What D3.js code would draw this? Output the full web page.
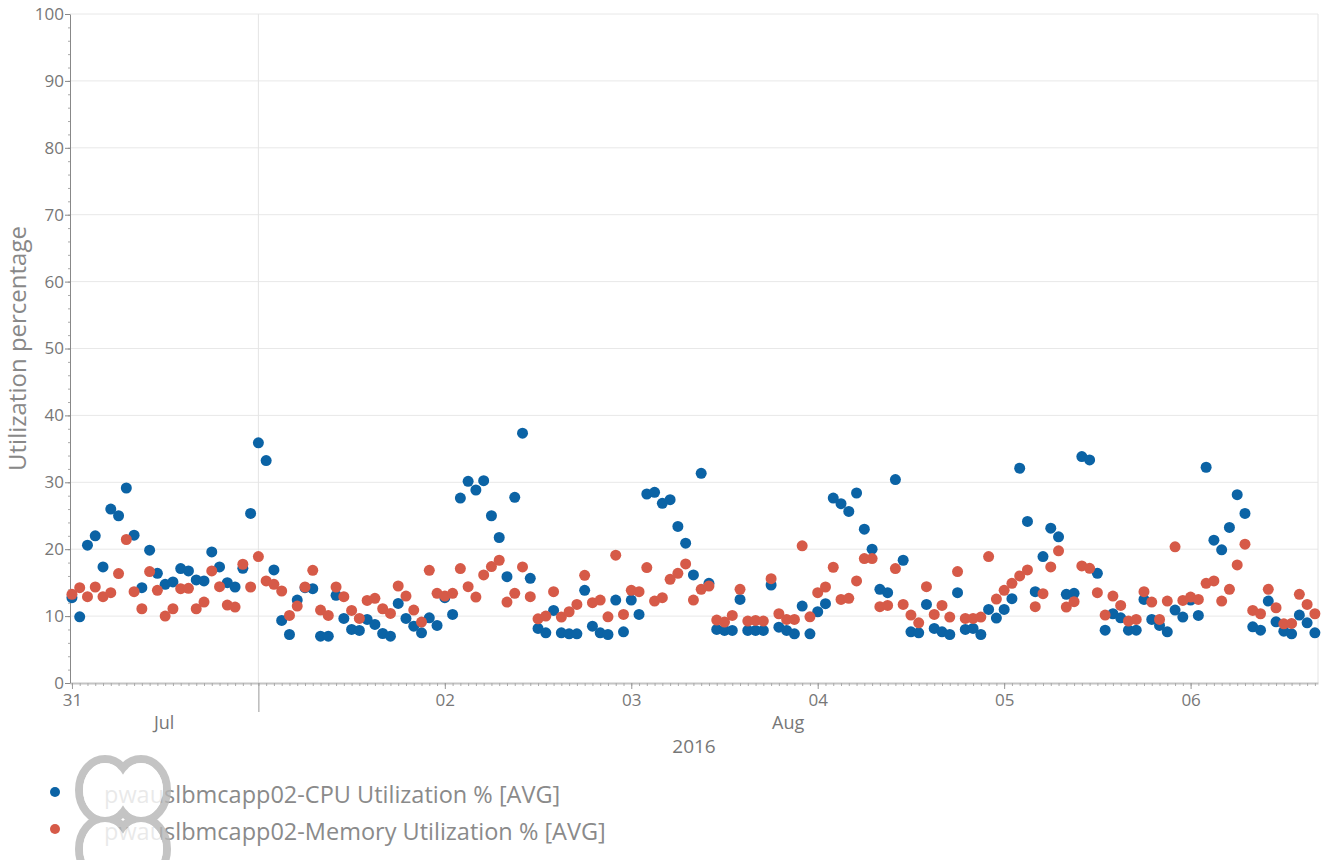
<!DOCTYPE html>
<html>
<head>
<meta charset="utf-8">
<script src="https://cdn.jsdelivr.net/npm/d3@7"></script>
<style>
  body { margin: 0; background: #fff; }
  text { font-family: "Open Sans", sans-serif; fill: #777; }
</style>
</head>
<body>
<div id="area"></div>
<script>
// hourly samples starting 2016-07-31 00:00
var startTime = new Date(2016, 6, 31, 0, 0);

var cpuValues = [
  12.75, 9.9, 20.6, 22, 17.35, 26, 25, 29.15, 22.1, 14.25, 19.85, 16.4, 14.75, 15.1, 17.1, 16.75, 15.4, 15.25, 19.6, 17.35,
  15, 14.35, 17.15, 25.35, 35.9, 33.25, 16.9, 9.35, 7.25, 12.4, 14.25, 14.1, 7, 7, 13.1, 9.65, 8, 7.85, 9.5, 8.75,
  7.4, 7, 11.9, 9.65, 8.5, 7.5, 9.75, 8.6, 12.75, 10.25, 27.65, 30.15, 28.85, 30.25, 25, 21.75, 15.9, 27.75, 37.35, 15.65,
  8.15, 7.5, 10.85, 7.5, 7.35, 7.35, 13.85, 8.5, 7.5, 7.25, 12.4, 7.65, 12.4, 10.25, 28.25, 28.5, 26.85, 27.4, 23.4, 20.9,
  16.15, 31.35, 14.9, 8, 7.85, 7.85, 12.5, 7.85, 7.85, 7.85, 14.65, 8.35, 7.85, 7.35, 11.5, 7.35, 10.65, 11.85, 27.65, 26.8,
  25.65, 28.4, 23, 20, 14, 13.5, 30.4, 18.35, 7.65, 7.5, 11.75, 8.15, 7.65, 7.25, 13.5, 8, 8.15, 7.25, 11, 9.7,
  11, 12.6, 32.1, 24.15, 13.65, 18.9, 23.15, 21.85, 13.25, 13.4, 33.85, 33.35, 16.4, 7.9, 10.35, 9.75, 7.9, 7.9, 12.5, 9.5,
  8.6, 7.65, 10.9, 9.85, 12.4, 10.1, 32.25, 21.35, 19.9, 23.25, 28.15, 25.35, 8.4, 7.9, 12.25, 9.15, 7.75, 7.35, 10.15, 9,
  7.5
];

var memValues = [
  13.25, 14.25, 12.9, 14.35, 12.9, 13.5, 16.35, 21.45, 13.65, 11.1, 16.65, 13.85, 10, 11.1, 14.1, 14.15, 11.1, 12.1, 16.75, 14.4,
  11.65, 11.35, 17.75, 14.35, 18.9, 15.25, 14.75, 13.75, 10.1, 11.5, 14.35, 16.85, 10.9, 10.1, 14.35, 12.9, 10.85, 9.65, 12.35, 12.65,
  11.1, 10.4, 14.5, 13, 10.9, 9.1, 16.85, 13.4, 13, 13.4, 17.1, 14.4, 12.85, 16.15, 17.4, 18.35, 12.1, 13.4, 17.35, 12.9,
  9.6, 10, 13.65, 9.85, 10.65, 11.75, 16.1, 12, 12.4, 9.9, 19.1, 10.25, 13.85, 13.65, 17.25, 12.25, 12.75, 15.5, 16.4, 17.8,
  12.4, 14, 14.5, 9.4, 9.1, 10.1, 14, 9.25, 9.35, 9.25, 15.6, 10.35, 9.5, 9.5, 20.5, 9.9, 13.5, 14.35, 17.3, 12.5,
  12.65, 15.25, 18.6, 18.6, 11.4, 11.6, 17.1, 11.75, 10.15, 9, 14.4, 10.25, 11.6, 9.85, 16.65, 9.65, 9.65, 9.85, 18.9, 12.55,
  13.85, 14.9, 16, 16.9, 11.4, 13.35, 17.35, 19.75, 11.35, 12.15, 17.5, 17.15, 13.5, 10.15, 13, 11.6, 9.25, 9.5, 13.65, 12.1,
  9.5, 12.25, 20.35, 12.35, 12.85, 12.5, 14.9, 15.25, 12.25, 14, 17.65, 20.75, 10.85, 10.35, 14, 11.25, 8.85, 8.9, 13.25, 11.75,
  10.35
];

var seriesNames = [
  "pwauslbmcapp02-CPU Utilization % [AVG]",
  "pwauslbmcapp02-Memory Utilization % [AVG]"
];
var seriesColors = ["#0b63a5", "#d65a48"];
var yTicks = [0, 10, 20, 30, 40, 50, 60, 70, 80, 90, 100];
var monthNames = ["Jul", "Aug"];
var yearLabel = "2016";

var W = 1324, H = 860;
var plot = {left: 70, right: 1318, top: 14, bottom: 683};

var svg = d3.select('#area').append('svg')
    .attr('width', W)
    .attr('height', H);

var hour = 3600 * 1000;
var x = d3.scaleTime()
    .domain([new Date(+startTime - 0.25 * hour), new Date(+startTime + 160.4 * hour)])
    .range([plot.left, plot.right]);

var y = d3.scaleLinear()
    .domain([0, 100])
    .range([plot.bottom, plot.top]);

// horizontal grid
svg.append('g').selectAll('line')
  .data(yTicks.slice(1))
  .enter().append('line')
    .attr('x1', plot.left).attr('x2', plot.right)
    .attr('y1', function(d) { return y(d); })
    .attr('y2', function(d) { return y(d); })
    .attr('stroke', '#e8e8e8');

// right border
svg.append('line')
  .attr('x1', plot.right).attr('x2', plot.right)
  .attr('y1', plot.top).attr('y2', plot.bottom)
  .attr('stroke', '#e4e4e4');

// month boundary grid line
var monthStarts = d3.timeMonth.range(x.domain()[0], x.domain()[1]);
svg.append('g').selectAll('line')
  .data(monthStarts)
  .enter().append('line')
    .attr('x1', function(d) { return x(d); })
    .attr('x2', function(d) { return x(d); })
    .attr('y1', plot.top).attr('y2', plot.bottom)
    .attr('stroke', '#e4e4e4');

// x axis: hour ticks
var xHours = svg.append('g')
    .attr('transform', 'translate(0,' + plot.bottom + ')')
    .call(d3.axisBottom(x).ticks(d3.timeHour.every(1)).tickSize(3).tickFormat('').tickSizeOuter(0));
xHours.select('.domain').attr('stroke', '#c4c4c4').attr('stroke-width', 2);
xHours.selectAll('.tick line').attr('stroke', '#aaa');

// x axis: day ticks
var dayAxis = d3.axisBottom(x)
    .ticks(d3.timeDay.every(1))
    .tickSize(6)
    .tickSizeOuter(0)
    .tickFormat(function(d) { return d.getDate() === 1 ? '' : d3.timeFormat('%d')(d); });
var xDays = svg.append('g')
    .attr('transform', 'translate(0,' + plot.bottom + ')')
    .call(dayAxis);
xDays.select('.domain').remove();
xDays.selectAll('.tick line')
    .attr('stroke', '#999')
    .attr('y2', function(d) { return d.getDate() === 1 ? 29 : 6; });
xDays.selectAll('.tick text')
    .attr('y', 11)
    .style('font-size', '17px')
    .style('fill', '#777')
    .style('font-family', '"Open Sans", sans-serif');

// month labels centred in their visible span
var bounds = [x.domain()[0]].concat(monthStarts, [x.domain()[1]]);
svg.append('g').selectAll('text')
  .data(monthNames)
  .enter().append('text')
    .attr('x', function(d, i) { return (x(bounds[i]) + x(bounds[i + 1])) / 2; })
    .attr('y', 729)
    .attr('text-anchor', 'middle')
    .style('font-size', '18px')
    .text(function(d) { return d; });

svg.append('text')
  .attr('x', (plot.left + plot.right) / 2)
  .attr('y', 753)
  .attr('text-anchor', 'middle')
  .style('font-size', '19px')
  .text(yearLabel);

// y axis with minor ticks
var yMinor = svg.append('g')
    .attr('transform', 'translate(' + plot.left + ',0)')
    .call(d3.axisLeft(y).ticks(50).tickSize(2).tickFormat('').tickSizeOuter(0));
yMinor.select('.domain').attr('stroke', '#888');
yMinor.selectAll('.tick line').attr('stroke', '#aaa');

var yMajor = svg.append('g')
    .attr('transform', 'translate(' + plot.left + ',0)')
    .call(d3.axisLeft(y).tickValues(yTicks).tickSize(5).tickSizeOuter(0));
yMajor.select('.domain').remove();
yMajor.selectAll('.tick line').attr('stroke', '#888');
yMajor.selectAll('.tick text')
    .attr('x', -6)
    .style('font-size', '17px')
    .style('fill', '#777')
    .style('font-family', '"Open Sans", sans-serif');

svg.append('text')
  .attr('transform', 'translate(26,' + ((plot.top + plot.bottom) / 2) + ') rotate(-90)')
  .attr('text-anchor', 'middle')
  .style('font-size', '24px')
  .style('fill', '#888')
  .text('Utilization percentage');

// points
var series = [cpuValues, memValues];
series.forEach(function(values, s) {
  svg.append('g').selectAll('circle')
    .data(values)
    .enter().append('circle')
      .attr('cx', function(d, i) { return x(new Date(+startTime + i * hour)); })
      .attr('cy', function(d) { return y(d); })
      .attr('r', 5.5)
      .attr('fill', seriesColors[s]);
});

// legend
var legend = svg.append('g').selectAll('.legend')
    .data(seriesNames)
    .enter().append('g')
    .attr('class', 'legend')
    .attr('transform', function(d, i) { return 'translate(0,' + (792 + i * 37) + ')'; });

legend.append('circle')
  .attr('cx', 55)
  .attr('r', 5)
  .attr('fill', function(d, i) { return seriesColors[i]; });

legend.append('text')
  .attr('x', 104)
  .attr('y', 11)
  .style('font-size', '23.5px')
  .style('fill', '#8a8a8a')
  .text(function(d) { return d; });

// broken image placeholder drawn over the legend
var lobes = [[105, 790], [141, 790], [105, 849], [141, 849]];
var icon = svg.append('g').attr('opacity', 0.82);
icon.selectAll('.lobe')
  .data(lobes)
  .enter().append('ellipse')
    .attr('cx', function(d) { return d[0]; })
    .attr('cy', function(d) { return d[1]; })
    .attr('rx', 26).attr('ry', 31)
    .attr('fill', 'none')
    .attr('stroke', '#b8b8b8')
    .attr('stroke-width', 8);
icon.selectAll('.fill')
  .data(lobes)
  .enter().append('ellipse')
    .attr('cx', function(d) { return d[0]; })
    .attr('cy', function(d) { return d[1]; })
    .attr('rx', 22).attr('ry', 27)
    .attr('fill', '#fff');
</script>
</body>
</html>
